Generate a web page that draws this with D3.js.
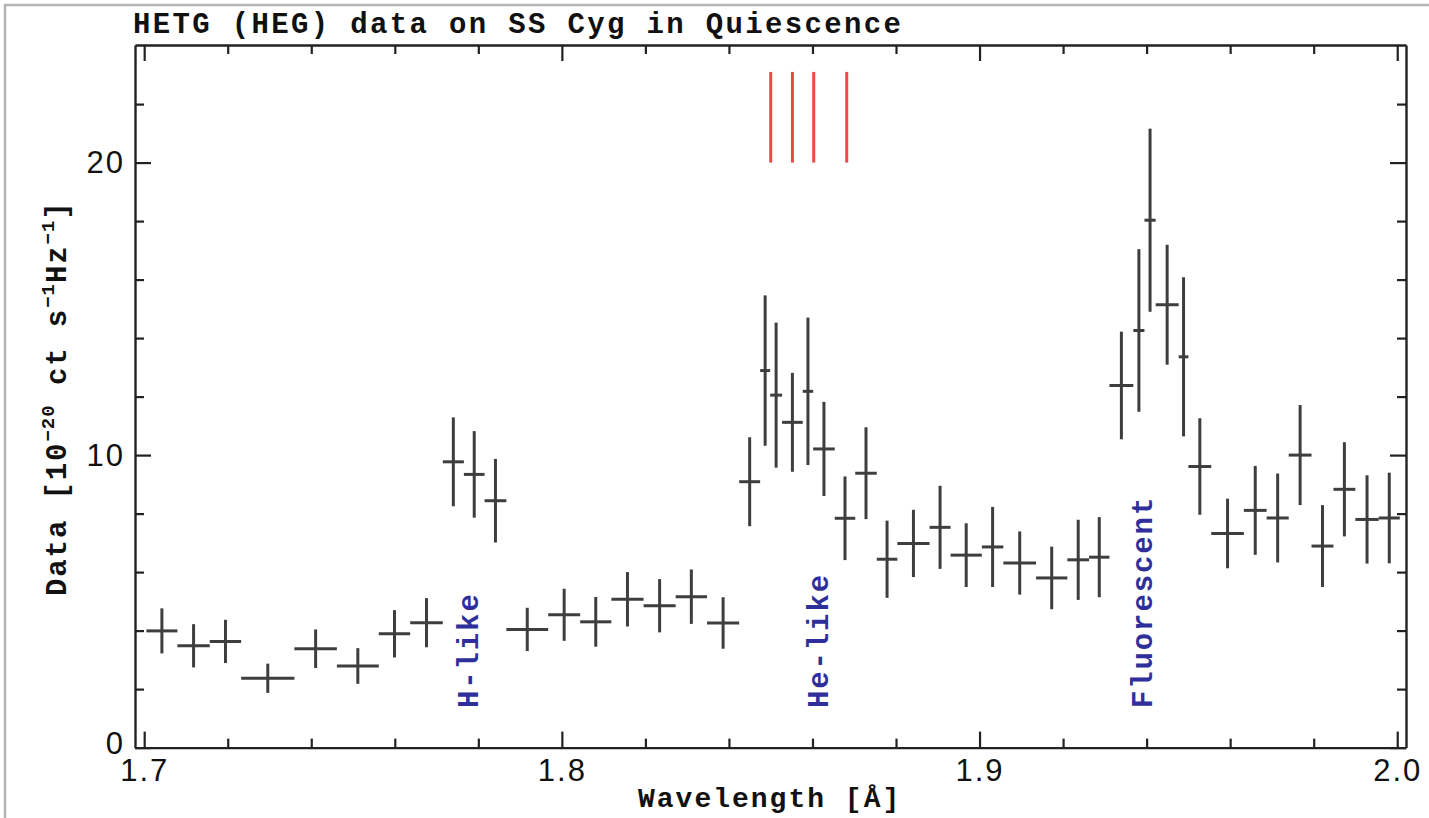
<!DOCTYPE html>
<html>
<head>
<meta charset="utf-8">
<script src="https://cdn.jsdelivr.net/npm/d3@7/dist/d3.min.js"></script>
<style>
    body { margin: 0; background: #fff; }
    svg text { font-family: "Liberation Mono", "DejaVu Sans Mono", monospace; }
</style>
</head>
<body>
<div id="chart"></div>
<script>
// HEG spectrum, adaptive bins: edges in Angstrom, 49 bins
var binEdges = [1.70053, 1.70795, 1.71570, 1.72322, 1.73596, 1.74613, 1.75617, 1.76368,
    1.77149, 1.77654, 1.78149, 1.78671, 1.79672, 1.80438, 1.81185, 1.81956, 1.82724,
    1.83476, 1.84245, 1.84747, 1.84987, 1.85272, 1.85767, 1.86016, 1.86533, 1.87024,
    1.87539, 1.88032, 1.88803, 1.89306, 1.90055, 1.90570, 1.91353, 1.92102, 1.92622,
    1.93110, 1.93682, 1.93948, 1.94216, 1.94767, 1.95001, 1.95547, 1.96328, 1.96873,
    1.97402, 1.97948, 1.98473, 1.98997, 1.99557, 2.00062];

// flux per bin [1e-20 ct/s/Hz]
var flux = [3.99, 3.48, 3.63, 2.37, 3.38, 2.79, 3.89, 4.27,
    9.77, 9.34, 8.44, 4.04, 4.54, 4.30, 5.07, 4.85, 5.16, 4.26,
    9.09, 12.89, 12.05, 11.12, 12.18, 10.21, 7.84, 9.38, 6.44, 6.98,
    7.53, 6.58, 6.86, 6.31, 5.80, 6.42, 6.51, 12.38, 14.26, 18.03,
    15.14, 13.36, 9.61, 7.32, 8.11, 7.85, 10.00, 6.89, 8.83, 7.80, 7.85];

var fluxErr = [0.77, 0.74, 0.74, 0.50, 0.66, 0.61, 0.81, 0.84,
    1.52, 1.48, 1.43, 0.74, 0.89, 0.85, 0.93, 0.91, 0.93, 0.88,
    1.52, 2.57, 2.48, 1.69, 2.52, 1.61, 1.43, 1.57, 1.32, 1.15,
    1.42, 1.09, 1.37, 1.08, 1.07, 1.37, 1.37, 1.84, 2.78, 3.13,
    2.05, 2.72, 1.65, 1.19, 1.52, 1.52, 1.71, 1.40, 1.61, 1.51, 1.55];

// Fe XXV He-like triplet markers (w, x, y, z)
var tripletWaves = [1.8500, 1.8552, 1.8603, 1.8682];
var tripletSpan = [20, 23.1];

var lineLabels = ["H-like", "He-like", "Fluorescent"];
var lineLabelWaves = [1.7799, 1.8637, 1.9413];
var lineLabelLevel = 1.35;

var xMajorTicks = [1.7, 1.8, 1.9, 2.0];
var xMinorTicks = [1.72, 1.74, 1.76, 1.78, 1.82, 1.84, 1.86, 1.88, 1.92, 1.94, 1.96, 1.98];
var yMajorTicks = [0, 10, 20];
var yMinorTicks = [2, 4, 6, 8, 12, 14, 16, 18, 22];

var chartTitle = "HETG (HEG) data on SS Cyg in Quiescence";

var width = 1429, height = 818;
var plotLeft = 135, plotRight = 1406, plotTop = 45, plotBottom = 747.6;

var xScale = d3.scaleLinear()
    .domain([1.6978, 2.0021])
    .range([plotLeft, plotRight]);

var yScale = d3.scaleLinear()
    .domain([0, 24.02])
    .range([plotBottom, plotTop]);

var svg = d3.select("#chart").append("svg")
    .attr("width", width)
    .attr("height", height);

// light page frame around the figure
svg.append("path")
    .attr("d", "M5," + height + "V5H" + width)
    .attr("fill", "none")
    .attr("stroke", "#b4b4b4")
    .attr("stroke-width", 2.5);

var axisSpecs = [
    {make: d3.axisBottom, scale: xScale, at: [0, plotBottom], major: xMajorTicks, minor: xMinorTicks, fmt: d3.format(".1f")},
    {make: d3.axisTop, scale: xScale, at: [0, plotTop], major: xMajorTicks, minor: xMinorTicks, fmt: null},
    {make: d3.axisLeft, scale: yScale, at: [plotLeft, 0], major: yMajorTicks, minor: yMinorTicks, fmt: d3.format("d")},
    {make: d3.axisRight, scale: yScale, at: [plotRight, 0], major: yMajorTicks, minor: yMinorTicks, fmt: null}
];

axisSpecs.forEach(function (s) {
    var major = s.make(s.scale)
        .tickValues(s.major)
        .tickSizeInner(-16)
        .tickSizeOuter(0)
        .tickPadding(s.make === d3.axisLeft ? 10 : 11)
        .tickFormat(s.fmt ? s.fmt : function () { return ""; });

    var minor = s.make(s.scale)
        .tickValues(s.minor)
        .tickSizeInner(-9)
        .tickSizeOuter(0)
        .tickFormat(function () { return ""; });

    var gMinor = svg.append("g")
        .attr("transform", "translate(" + s.at[0] + "," + s.at[1] + ")")
        .call(minor);
    gMinor.select(".domain").remove();

    var gMajor = svg.append("g")
        .attr("transform", "translate(" + s.at[0] + "," + s.at[1] + ")")
        .call(major);

    [gMinor, gMajor].forEach(function (g) {
        g.selectAll("line").attr("stroke", "#222").attr("stroke-width", 2.2);
    });
    gMajor.select(".domain").attr("stroke", "#222").attr("stroke-width", 2.4);
    gMajor.selectAll("text")
        .attr("fill", "#111")
        .style("font-family", "'Liberation Sans', Arial, sans-serif")
        .style("font-size", "31px")
        .style("letter-spacing", "2px");
});

// the "0" on the y axis sits just above-left of the "1.7"
svg.selectAll("g.tick text")
    .filter(function () { return this.textContent === "0"; })
    .attr("dy", "0.2em");

// error bars, one cross per bin
var bins = flux.map(function (v, i) {
    return {lo: binEdges[i], hi: binEdges[i + 1], v: v, e: fluxErr[i]};
});

var bars = svg.append("g").attr("class", "bins");

bars.selectAll("line.hbar")
    .data(bins)
    .enter().append("line")
    .attr("class", "hbar")
    .attr("x1", function (d) { return xScale(d.lo); })
    .attr("x2", function (d) { return xScale(d.hi); })
    .attr("y1", function (d) { return yScale(d.v); })
    .attr("y2", function (d) { return yScale(d.v); })
    .attr("stroke", "#3e3e3e")
    .attr("stroke-width", 3);

bars.selectAll("line.vbar")
    .data(bins)
    .enter().append("line")
    .attr("class", "vbar")
    .attr("x1", function (d) { return xScale((d.lo + d.hi) / 2); })
    .attr("x2", function (d) { return xScale((d.lo + d.hi) / 2); })
    .attr("y1", function (d) { return yScale(d.v - d.e); })
    .attr("y2", function (d) { return yScale(d.v + d.e); })
    .attr("stroke", "#3e3e3e")
    .attr("stroke-width", 3);

// red triplet marks
svg.append("g").selectAll("line")
    .data(tripletWaves)
    .enter().append("line")
    .attr("x1", function (d) { return xScale(d); })
    .attr("x2", function (d) { return xScale(d); })
    .attr("y1", yScale(tripletSpan[0]))
    .attr("y2", yScale(tripletSpan[1]))
    .attr("stroke", "#f04646")
    .attr("stroke-width", 3);

// blue line identifications, written bottom-up
svg.append("g").selectAll("text")
    .data(lineLabels)
    .enter().append("text")
    .attr("transform", function (d, i) {
        return "translate(" + xScale(lineLabelWaves[i]) + "," + yScale(lineLabelLevel) + ") rotate(-90)";
    })
    .attr("fill", "#2f2f9c")
    .style("font-size", "29px")
    .style("font-weight", "bold")
    .style("letter-spacing", "1.9px")
    .text(function (d) { return d; });

// title
svg.append("text")
    .attr("x", 133)
    .attr("y", 33)
    .attr("fill", "#111")
    .style("font-size", "29px")
    .style("font-weight", "bold")
    .style("letter-spacing", "2.35px")
    .text(chartTitle);

// x axis title
svg.append("text")
    .attr("x", 638)
    .attr("y", 807)
    .attr("fill", "#111")
    .style("font-size", "28px")
    .style("font-weight", "bold")
    .style("letter-spacing", "2px")
    .text("Wavelength [Å]");

// y axis title with superscripts
var yTitle = svg.append("text")
    .attr("transform", "translate(66,596) rotate(-90)")
    .attr("fill", "#111")
    .style("font-size", "29px")
    .style("font-weight", "bold")
    .style("letter-spacing", "1.9px");

var yTitleParts = [
    {t: "Data [10", sup: false},
    {t: "\u221220", sup: true},
    {t: " ct s", sup: false},
    {t: "\u22121", sup: true},
    {t: "Hz", sup: false},
    {t: "\u22121", sup: true},
    {t: "]", sup: false}
];
var raised = false;
yTitleParts.forEach(function (p) {
    var shift = 0;
    if (p.sup && !raised) { shift = -12; raised = true; }
    if (!p.sup && raised) { shift = 12; raised = false; }
    yTitle.append("tspan")
        .attr("dy", shift)
        .style("font-size", p.sup ? "19px" : "29px")
        .style("letter-spacing", p.sup ? "1px" : "1.9px")
        .text(p.t);
});
</script>
</body>
</html>
